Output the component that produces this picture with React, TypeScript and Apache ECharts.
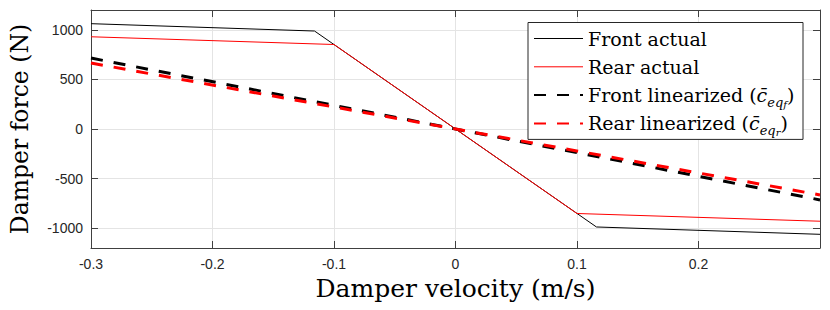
import React, { useEffect, useRef } from 'react';
import * as echarts from 'echarts';

const seriesNames = ['Front actual', 'Rear actual', 'Front linearized', 'Rear linearized'];
const frontActual: [number, number][] = [[-0.3, 1062], [-0.116, 988], [0.116, -988], [0.3, -1062]];
const rearActual: [number, number][] = [[-0.3, 930], [-0.1, 852], [0.1, -852], [0.3, -930]];
const frontLinearized: [number, number][] = [[-0.3, 715], [0.3, -715]];
const rearLinearized: [number, number][] = [[-0.3, 665], [0.3, -665]];
const yTickValues = [-1000, -500, 0, 500, 1000];
const xLabel = 'Damper velocity (m/s)';
const yLabel = 'Damper force (N)';

const SERIF = '"DejaVu Serif", serif';
const SANS = '"Liberation Sans", Arial, sans-serif';
const AXIS_COLOR = '#404040';
const GRID_COLOR = '#e4e4e4';

export default function App() {
  const ref = useRef<HTMLDivElement>(null);
  useEffect(() => {
    if (!ref.current) return;
    const chart = echarts.init(ref.current, undefined, { renderer: 'svg' });
    const xCommon = {
      type: 'value' as const,
      min: -0.3,
      max: 0.3,
      interval: 0.1,
    };
    const yCommon = {
      type: 'value' as const,
      min: -1200,
      max: 1200,
    };
    const mk = (name: string, data: [number, number][], color: string, width: number, dashed: boolean) => ({
      name,
      type: 'line' as const,
      data,
      symbol: 'none',
      color,
      lineStyle: { color, width, type: dashed ? [12, 11] : 'solid', cap: 'butt' },
      z: dashed ? 3 : 2,
    });
    const richMath = (sub: string) =>
      `({c|c̄}{s|eq}{ss|${sub}})`;
    chart.setOption({
      animation: false,
      backgroundColor: '#ffffff',
      grid: { left: 85, right: 10, top: 10, bottom: 62, containLabel: false },
      legend: {
        data: [
          { name: seriesNames[0], lineStyle: { width: 1 } },
          { name: seriesNames[1], lineStyle: { width: 1 } },
          { name: seriesNames[2] },
          { name: seriesNames[3] },
        ],
        orient: 'vertical',
        left: 528,
        top: 22.5,
        padding: [2, 2, 2, 5],
        itemWidth: 49,
        itemHeight: 14,
        itemGap: 0.3,
        backgroundColor: '#ffffff',
        borderColor: '#262626',
        borderWidth: 1,
        borderRadius: 0,
        itemStyle: { opacity: 0, borderWidth: 0 },
        formatter: (name: string) => {
          if (name === 'Front linearized') return 'Front linearized ' + richMath('f');
          if (name === 'Rear linearized') return 'Rear linearized ' + richMath('r');
          return name;
        },
        textStyle: {
          fontFamily: SERIF,
          fontSize: 19,
          color: '#000000',
          lineHeight: 28,
          width: 213,
          rich: {
            c: { fontFamily: SERIF, fontSize: 19, fontStyle: 'italic', lineHeight: 28, color: '#000' },
            s: { fontFamily: SERIF, fontSize: 13, fontStyle: 'italic', lineHeight: 14, verticalAlign: 'bottom', color: '#000' },
            ss: { fontFamily: SERIF, fontSize: 10, fontStyle: 'italic', lineHeight: 10, verticalAlign: 'bottom', color: '#000' },
          },
        },
      },
      xAxis: [
        {
          ...xCommon,
          position: 'bottom',
          name: xLabel,
          nameLocation: 'middle',
          nameGap: 28,
          nameTextStyle: { fontFamily: SERIF, fontSize: 25, color: '#000' },
          axisLine: { show: true, onZero: false, lineStyle: { color: AXIS_COLOR, width: 1 } },
          axisTick: { show: true, inside: true, length: 7, lineStyle: { color: AXIS_COLOR } },
          axisLabel: {
            fontFamily: SANS,
            fontSize: 14,
            color: '#262626',
            margin: 9,
            formatter: (v: number) => (Math.abs(v - 0.3) < 1e-9 ? '' : String(Math.round(v * 10) / 10)),
          },
          splitLine: { show: true, lineStyle: { color: GRID_COLOR, width: 1 } },
        },
        {
          ...xCommon,
          position: 'top',
          axisLine: { show: true, onZero: false, lineStyle: { color: AXIS_COLOR, width: 1 } },
          axisTick: { show: true, inside: true, length: 7, lineStyle: { color: AXIS_COLOR } },
          axisLabel: { show: false },
          splitLine: { show: false },
        },
      ],
      yAxis: [
        {
          ...yCommon,
          position: 'left',
          name: yLabel,
          nameLocation: 'middle',
          nameGap: 59,
          nameTextStyle: { fontFamily: SERIF, fontSize: 23.5, color: '#000' },
          axisLine: { show: true, onZero: false, lineStyle: { color: AXIS_COLOR, width: 1 } },
          axisTick: { show: true, inside: true, length: 7, customValues: yTickValues, lineStyle: { color: AXIS_COLOR } },
          axisLabel: {
            fontFamily: SANS,
            fontSize: 14,
            color: '#262626',
            margin: 8,
            customValues: yTickValues,
            formatter: (v: number) => String(v),
          },
          splitLine: { show: true, lineStyle: { color: GRID_COLOR, width: 1 } },
        },
        {
          ...yCommon,
          position: 'right',
          axisLine: { show: true, onZero: false, lineStyle: { color: AXIS_COLOR, width: 1 } },
          axisTick: { show: true, inside: true, length: 7, customValues: yTickValues, lineStyle: { color: AXIS_COLOR } },
          axisLabel: { show: false, customValues: yTickValues },
          splitLine: { show: false },
        },
      ],
      series: [
        mk(seriesNames[0], frontActual, '#000000', 1, false),
        mk(seriesNames[1], rearActual, '#ff0000', 1, false),
        mk(seriesNames[2], frontLinearized, '#000000', 3, true),
        mk(seriesNames[3], rearLinearized, '#ff0000', 3, true),
      ],
    });
    return () => chart.dispose();
  }, []);
  return <div ref={ref} style={{ position: 'fixed', left: 0, top: 0, width: 830, height: 310 }} />;
}
